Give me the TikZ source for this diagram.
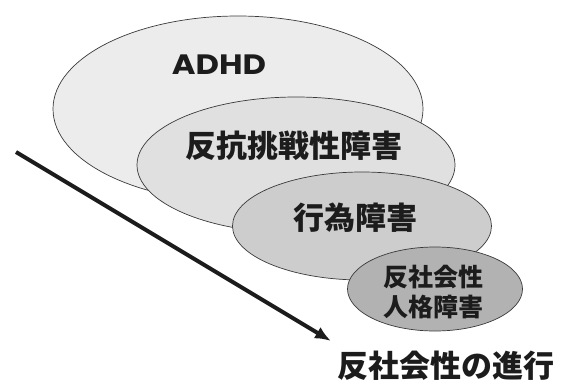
\documentclass[tikz,border=0pt]{standalone}
\usepackage{fontspec}
\usetikzlibrary{shapes.geometric,arrows.meta}
\newfontfamily\jpfont{Noto Sans CJK JP}
\newfontfamily\latfont{Poppins}
\definecolor{fillA}{HTML}{ECECEC}
\definecolor{fillB}{HTML}{E0E0E0}
\definecolor{fillC}{HTML}{CDCDCD}
\definecolor{fillD}{HTML}{B2B2B2}
\definecolor{edgecol}{HTML}{3A3A3A}
\definecolor{inkcol}{HTML}{1C1C1C}
\tikzset{
  blob/.style={ellipse, draw=edgecol, line width=0.7pt, inner sep=0pt},
  lbl/.style={inner sep=0pt, text=inkcol, font=\jpfont\bfseries},
}
\begin{document}
\begin{tikzpicture}[x=1pt,y=-1pt]
\useasboundingbox (0,0) rectangle (561,383);
\node[blob, fill=fillA, minimum width=370pt, minimum height=186pt] (e1) at (238,109) {};
\node[blob, fill=fillB, minimum width=318pt, minimum height=136pt] (e2) at (296,165) {};
\node[blob, fill=fillC, minimum width=259pt, minimum height=108pt] (e3) at (362,226) {};
\node[blob, fill=fillD, minimum width=175pt, minimum height=84pt] (e4) at (435,289) {};
\node[inner sep=0pt, text=inkcol, font=\latfont\bfseries\fontsize{28}{28}\selectfont] (t1) at (219,65) {\scalebox{1.15}[1]{ADHD}};
\node[lbl, font=\jpfont\bfseries\fontsize{31}{31}\selectfont] (t2) at (294,146) {反抗挑戦性障害};
\node[lbl, font=\jpfont\bfseries\fontsize{31}{31}\selectfont] (t3) at (355,218) {行為障害};
\node[lbl, font=\jpfont\bfseries\fontsize{25}{30}\selectfont, align=center] (t4) at (433,292) {反社会性\\人格障害};
\node[lbl, font=\jpfont\bfseries\fontsize{31}{31}\selectfont] (t5) at (446,366) {反社会性の進行};
\coordinate (as) at (16,152);
\coordinate (ae) at (331,341);
\draw[inkcol, line width=4pt, -{Latex[length=16pt,width=13pt]}] (as) -- (ae);
\end{tikzpicture}
\end{document}
